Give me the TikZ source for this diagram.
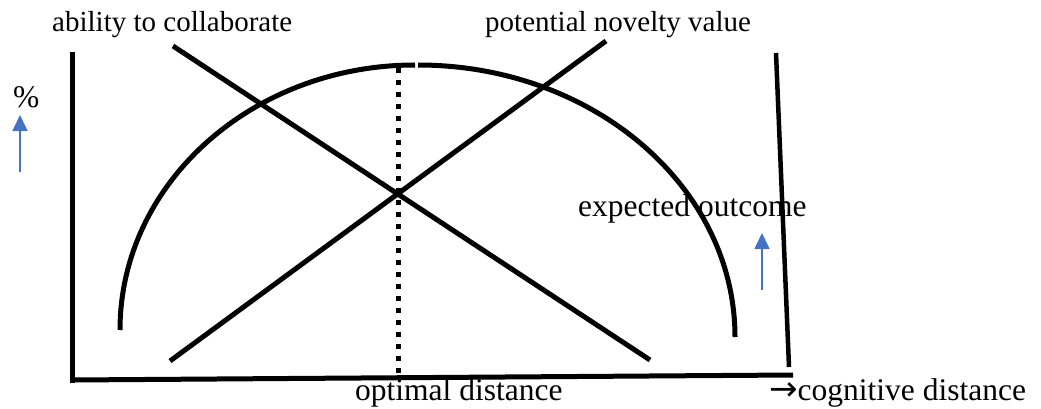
\documentclass[tikz,border=0pt]{standalone}
\usepackage{fontspec}
\setmainfont{Liberation Serif}
\newfontfamily\arrowfont{DejaVu Sans}
\usetikzlibrary{arrows.meta}
\definecolor{arrowblue}{HTML}{4472C4}
\begin{document}
\begin{tikzpicture}[x=1pt,y=1pt,
  thick line/.style={line width=5pt,line cap=butt},
  blue arrow/.style={draw=arrowblue,line width=1.5pt,-{Triangle[width=15pt,length=16pt]}},
  lbl/.style={inner sep=0pt,anchor=base west,font=\fontsize{31.5}{36}\selectfont},
  small lbl/.style={inner sep=0pt,anchor=base west,font=\fontsize{29}{34}\selectfont}]
\useasboundingbox (0,0) rectangle (1041,408);
% labels
\node[small lbl] (abl) at (52,376) {ability to collaborate};
\node[small lbl] (pnv) at (485,376) {potential novelty value};
\node[lbl] (pct) at (13,301) {\%};
\node[lbl] (exo) at (578,192) {expected outcome};
\node[lbl] (opt) at (355,8) {optimal distance};
\node[lbl] (cog) at (769,8) {{\arrowfont\fontsize{34}{36}\selectfont →}cognitive distance};
% coordinates
\coordinate (ytop) at (72,356);
\coordinate (origin) at (72,28);
\coordinate (xend) at (793,33);
\coordinate (rtop) at (776,355);
\coordinate (rbot) at (789,41);
\coordinate (arcL) at (120,78);
\coordinate (arcR) at (418,343);
\coordinate (dtop) at (398,340);
\coordinate (dbot) at (398,32);
\coordinate (a1) at (173,362);
\coordinate (a2) at (650,48);
\coordinate (p1) at (170,47);
\coordinate (p2) at (606,367);
\coordinate (b1) at (20,236);
\coordinate (b2) at (20,293);
\coordinate (c1) at (762,118);
\coordinate (c2) at (762,175);
% axes
\draw[thick line] (72,25) -- (ytop);
\draw[thick line] (origin) -- (xend);
\draw[line width=4.5pt] (rtop) -- (rbot);
% expected outcome arc
\draw[thick line] (arcL) arc[start angle=180,end angle=90,x radius=295,y radius=265];
\draw[thick line] (arcR) arc[start angle=90,end angle=0,x radius=317,y radius=272];
% dotted optimum
\draw[line width=5pt,dash pattern=on 5pt off 7pt] (dtop) -- (dbot);
% crossing lines
\draw[thick line] (a1) -- (a2);
\draw[thick line] (p1) -- (p2);
% blue arrows
\draw[blue arrow] (b1) -- (b2);
\draw[blue arrow] (c1) -- (c2);
\end{tikzpicture}
\end{document}
